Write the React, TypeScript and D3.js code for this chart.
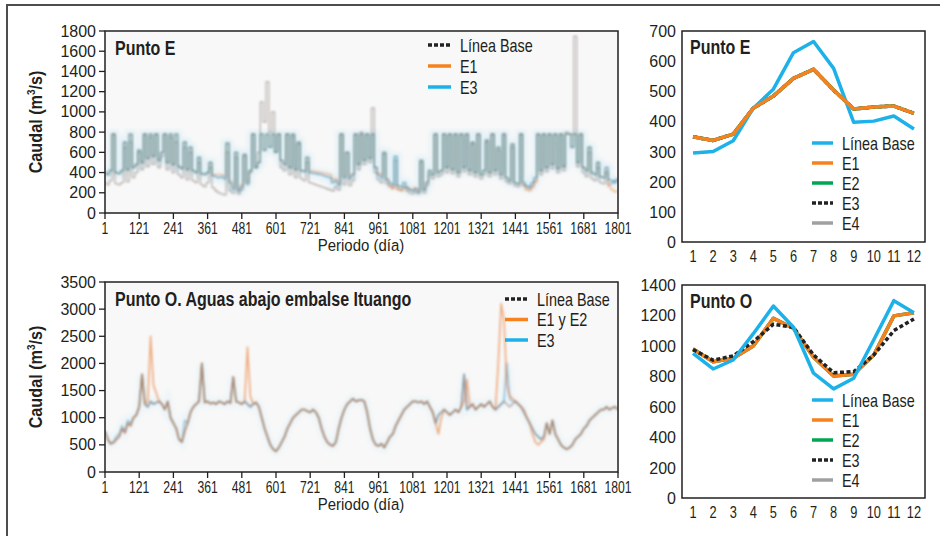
import * as d3 from "d3";

// sampling grid of the daily series (every 10 days)
const DAYS = d3.range(1, 1802, 10);
const X_TICKS = d3.range(1, 1802, 120);
const MONTHS = d3.range(1, 13);

// ---- Punto E, daily (m3/s)
const puntoEBase = [
  300, 280, 320, 780, 290, 280, 300, 650, 310, 700,
  350, 400, 600, 430, 780, 460, 750, 480, 780, 450,
  560, 780, 430, 750, 400, 700, 380, 350, 650, 330,
  600, 320, 300, 500, 280, 260, 300, 450, 250, 220,
  200, 190, 180, 600, 220, 200, 550, 190, 230, 560,
  280, 400, 780, 450, 600, 1100, 900, 1300, 800, 1000,
  600, 780, 450, 420, 780, 380, 760, 350, 680, 340,
  320, 500, 300, 290, 280, 270, 260, 250, 240, 230,
  220, 260, 230, 780, 280, 600, 270, 320, 780, 430,
  800, 480, 780, 500, 1040, 400, 330, 300, 580, 290,
  270, 250, 520, 240, 230, 260, 220, 200, 190, 210,
  190, 500, 200, 270, 380, 340, 780, 360, 380, 780,
  400, 780, 390, 780, 360, 780, 410, 780, 380, 680,
  360, 780, 340, 380, 700, 360, 780, 380, 620, 340,
  780, 310, 290, 650, 270, 260, 780, 270, 250, 240,
  270, 320, 780, 380, 780, 410, 780, 440, 780, 400,
  780, 420, 800, 780, 780, 1750, 460, 780, 400, 360,
  600, 340, 320, 450, 300, 290, 400, 280, 300, 320,
  340,
];
const puntoEE1 = [
  400, 380, 420, 780, 400, 390, 420, 700, 430, 780,
  450, 480, 620, 500, 780, 540, 780, 560, 780, 520,
  600, 780, 500, 780, 480, 780, 460, 440, 700, 430,
  650, 420, 400, 550, 390, 380, 400, 500, 380, 380,
  380, 380, 370, 690, 320, 260, 600, 240, 280, 580,
  320, 420, 780, 450, 500, 780, 620, 780, 650, 780,
  600, 780, 520, 480, 780, 450, 780, 430, 700, 420,
  420, 550, 420, 415, 410, 405, 400, 395, 390, 380,
  330, 340, 300, 780, 370, 600, 360, 390, 780, 480,
  780, 520, 780, 540, 780, 450, 400, 380, 600, 340,
  260, 240, 280, 230, 220, 250, 260, 240, 230, 250,
  230, 520, 240, 310, 420, 380, 780, 400, 420, 780,
  450, 780, 430, 780, 400, 780, 450, 780, 420, 700,
  400, 780, 380, 420, 720, 400, 780, 420, 650, 380,
  780, 350, 320, 680, 300, 290, 780, 280, 230, 220,
  250, 300, 780, 420, 780, 450, 780, 480, 780, 440,
  780, 460, 780, 780, 650, 780, 500, 780, 450, 420,
  650, 400, 380, 500, 360, 350, 420, 260, 230, 210,
  220,
];
const puntoEE3 = [
  400, 380, 420, 780, 400, 390, 420, 700, 430, 780,
  450, 480, 620, 500, 780, 540, 780, 560, 780, 520,
  600, 780, 500, 780, 480, 780, 460, 440, 700, 430,
  650, 420, 400, 550, 390, 380, 400, 500, 370, 360,
  350, 360, 340, 690, 300, 240, 600, 220, 260, 580,
  300, 420, 780, 450, 500, 780, 620, 780, 650, 780,
  600, 780, 520, 480, 780, 450, 780, 430, 700, 420,
  410, 550, 400, 395, 390, 385, 380, 370, 360, 350,
  300, 320, 280, 780, 350, 600, 340, 380, 780, 480,
  780, 520, 780, 540, 780, 450, 380, 350, 600, 330,
  300, 280, 560, 270, 260, 300, 250, 230, 220, 240,
  210, 520, 230, 300, 420, 380, 780, 400, 420, 780,
  450, 780, 430, 780, 400, 780, 450, 780, 420, 700,
  400, 780, 380, 420, 720, 400, 780, 420, 650, 380,
  780, 350, 320, 680, 300, 290, 780, 300, 270, 260,
  300, 350, 780, 420, 780, 450, 780, 480, 780, 440,
  780, 460, 780, 780, 650, 780, 500, 780, 450, 420,
  650, 400, 380, 500, 360, 350, 450, 330, 320, 300,
  330,
];

// ---- Punto O, daily (m3/s)
const puntoOBase = [
  750, 600, 520, 540, 600, 650, 800, 720, 900, 850,
  1000, 1050, 1200, 1800, 1250, 1200, 1300, 1250, 1280, 1300,
  1250, 1150, 1300, 1000, 900, 800, 600, 550, 750, 900,
  1100, 1200, 1250, 1300, 2000, 1280, 1300, 1260, 1280, 1250,
  1300, 1280, 1250, 1300, 1270, 1750, 1300, 1280, 1250, 1300,
  1250, 1200, 1250, 1280, 1200, 1000, 800, 650, 500, 420,
  380, 450, 550, 650, 800, 900, 1000, 1050, 1100, 1150,
  1150, 1120, 1100, 1150, 1100, 1000, 800, 650, 550, 500,
  480, 550, 800, 1000, 1150, 1250, 1300, 1350, 1300, 1320,
  1330, 1300, 1100, 800, 600, 500, 480, 520, 450, 550,
  650, 700, 850, 950, 1050, 1150, 1200, 1250, 1300, 1300,
  1280, 1300, 1250, 1300, 1200, 1100, 900, 1050, 1100, 1150,
  1100, 1050, 1100, 1150, 1100, 1200, 1800, 1150, 1200, 1250,
  1150, 1200, 1250, 1200, 1250, 1300, 1200, 1150, 1200, 1250,
  1300, 1250, 1200, 1250, 1300, 1250, 1200, 1100, 1000, 900,
  800, 700, 650, 600, 650, 900, 700, 950, 700, 600,
  500, 450, 420, 450, 500, 600, 650, 700, 800, 850,
  950, 1000, 1050, 1100, 1150, 1150, 1200, 1150, 1180, 1200,
  1150,
];
const puntoOE1E2 = [
  750, 600, 520, 540, 600, 650, 800, 720, 900, 850,
  1000, 1050, 1200, 1800, 1250, 1300, 2500, 1600, 1450, 1300,
  1250, 1150, 1300, 1000, 900, 800, 600, 550, 750, 900,
  1100, 1200, 1250, 1300, 2000, 1280, 1300, 1260, 1280, 1250,
  1300, 1280, 1250, 1300, 1270, 1750, 1300, 1280, 1250, 1300,
  2300, 1400, 1250, 1280, 1200, 1000, 800, 650, 500, 420,
  380, 450, 550, 650, 800, 900, 1000, 1050, 1100, 1150,
  1150, 1120, 1100, 1150, 1100, 1000, 800, 650, 550, 500,
  480, 550, 800, 1000, 1150, 1250, 1300, 1350, 1300, 1320,
  1330, 1300, 1100, 800, 600, 500, 480, 520, 450, 550,
  650, 700, 850, 950, 1050, 1150, 1200, 1250, 1300, 1300,
  1280, 1300, 1250, 1300, 1200, 1100, 900, 700, 1000, 1150,
  1100, 1050, 1100, 1150, 1100, 1200, 1300, 1700, 1200, 1250,
  1150, 1200, 1250, 1200, 1250, 1300, 1200, 1150, 2000, 3100,
  2800, 1600, 1400, 1350, 1300, 1250, 1200, 1150, 1000, 900,
  700, 550, 500, 550, 600, 900, 700, 950, 700, 600,
  500, 450, 420, 450, 500, 600, 650, 700, 800, 850,
  950, 1000, 1050, 1100, 1150, 1150, 1200, 1150, 1180, 1200,
  1150,
];
const puntoOE3 = [
  750, 600, 520, 560, 650, 700, 850, 750, 950, 900,
  1000, 1050, 1200, 1800, 1250, 1200, 1300, 1250, 1280, 1300,
  1250, 1150, 1300, 1000, 900, 800, 600, 550, 950, 900,
  1100, 1200, 1250, 1300, 2000, 1280, 1300, 1260, 1280, 1250,
  1300, 1280, 1250, 1300, 1270, 1750, 1300, 1280, 1250, 1300,
  1250, 1200, 1250, 1280, 1200, 1000, 800, 650, 500, 420,
  380, 450, 550, 650, 800, 900, 1000, 1050, 1100, 1150,
  1150, 1120, 1100, 1150, 1100, 1000, 800, 650, 550, 500,
  480, 550, 800, 1000, 1150, 1250, 1300, 1350, 1300, 1320,
  1330, 1300, 1100, 800, 600, 500, 480, 520, 450, 550,
  650, 700, 850, 950, 1050, 1150, 1200, 1250, 1300, 1300,
  1280, 1300, 1250, 1300, 1200, 1100, 900, 1050, 1100, 1150,
  1100, 1050, 1100, 1150, 1100, 1200, 1800, 1150, 1200, 1250,
  1150, 1200, 1250, 1200, 1250, 1300, 1200, 1150, 1200, 1250,
  1300, 2000, 1350, 1300, 1300, 1250, 1200, 1100, 1000, 900,
  800, 700, 650, 600, 650, 900, 700, 950, 700, 600,
  500, 450, 420, 450, 500, 600, 650, 700, 800, 850,
  950, 1000, 1050, 1100, 1150, 1150, 1200, 1150, 1180, 1200,
  1150,
];

// ---- monthly means
const mesEBase = [295, 300, 336, 444, 507, 628, 665, 576, 397, 401, 418, 375];
const mesEE1 = [349, 337, 358, 444, 484, 543, 573, 504, 441, 448, 451, 427];
const mesEE2 = [349, 337, 358, 444, 484, 543, 573, 504, 441, 448, 451, 427];
const mesEE3 = [349, 337, 358, 444, 484, 543, 573, 504, 441, 448, 451, 427];
const mesEE4 = [349, 337, 358, 444, 484, 543, 573, 504, 441, 448, 451, 427];

const mesOBase = [950, 848, 907, 1080, 1262, 1122, 820, 717, 787, 1040, 1297, 1218];
const mesOE1 = [980, 896, 918, 999, 1181, 1116, 925, 802, 813, 940, 1197, 1218];
const mesOE2 = [980, 896, 918, 999, 1181, 1116, 925, 802, 813, 940, 1197, 1218];
const mesOE3 = [975, 906, 934, 1028, 1142, 1122, 940, 824, 830, 940, 1100, 1177];
const mesOE4 = [980, 896, 918, 999, 1181, 1116, 925, 802, 813, 940, 1197, 1218];

const FONT = "'Liberation Sans', Arial, sans-serif";
const C_BLUE = "#1cb1e8";
const C_ORANGE = "#f5821f";
const C_GREEN = "#00a651";
const C_BLACK = "#222";
const C_GREY = "#a0a0a0";

function CText({x, y, sx = 0.8, anchor = "start", size = 16, weight = "normal", children}: any) {
  return (
    <text transform={`translate(${x},${y}) scale(${sx},1)`} textAnchor={anchor}
          fontSize={size} fontWeight={weight} fill="#231f20">
      {children}
    </text>
  );
}

type Serie = {values: number[]; color: string; width: number; opacity: number; halo?: string};
type LegendItem = {label: string; color: string; dashed?: boolean};

function DailyPanel({y0, y1, yMax, yStep, title, series, legend, legendX, legendY, legendGap, stepped}: {
  y0: number; y1: number; yMax: number; yStep: number; title: string; stepped?: boolean;
  series: Serie[]; legend: LegendItem[]; legendX: number; legendY: number; legendGap: number;
}) {
  const x = d3.scaleLinear().domain([1, 1801]).range([105, 618]);
  const y = d3.scaleLinear().domain([0, yMax]).range([y1, y0]);
  const line = d3.line<number>()
    .x((_, i) => x(DAYS[i]))
    .y((d) => y(d))
    .curve(stepped ? d3.curveStep : d3.curveLinear);
  const yTicks = d3.range(0, yMax + 1, yStep);
  const id = `clip${y0}`;

  return (
    <g>
      <defs>
        <clipPath id={id}><rect x={105} y={y0} width={513} height={y1 - y0} /></clipPath>
      </defs>
      <rect x={105} y={y0} width={513} height={y1 - y0} fill="#f8f8f8" />
      <g clipPath={`url(#${id})`}>
        {series.filter((s) => s.halo).map((s, i) => (
          <path key={"h" + i} d={line(s.values) ?? ""} fill="none" stroke={s.halo}
                strokeWidth={8} opacity={0.35} filter="url(#haze)" />
        ))}
        <g filter="url(#soft)">
          {series.map((s, i) => (
            <path key={i} d={line(s.values) ?? ""} fill="none" stroke={s.color}
                  strokeWidth={s.width} strokeOpacity={s.opacity} strokeLinejoin="round" />
          ))}
        </g>
      </g>
      <rect x={105} y={y0} width={513} height={y1 - y0} fill="none" stroke="#231f20" strokeWidth={1.5} />
      {yTicks.map((t) => (
        <g key={t}>
          <line x1={99} x2={105} y1={y(t)} y2={y(t)} stroke="#231f20" strokeWidth={1.3} />
          <text x={96} y={y(t) + 5.5} textAnchor="end" fontSize={16} fill="#231f20">{t}</text>
        </g>
      ))}
      {X_TICKS.map((t) => (
        <g key={t}>
          <line x1={x(t)} x2={x(t)} y1={y1} y2={y1 + 6} stroke="#231f20" strokeWidth={1.3} />
          <CText x={x(t)} y={y1 + 21} sx={0.76} anchor="middle">{t}</CText>
        </g>
      ))}
      <CText x={361} y={y1 + 38} sx={0.88} size={17} anchor="middle">Periodo (día)</CText>
      <g transform={`translate(42,${(y0 + y1) / 2}) rotate(-90)`}>
        <text transform="scale(0.9,1)" textAnchor="middle" fontSize={18} fontWeight="bold" fill="#231f20">
          Caudal (m<tspan dy={-7} fontSize={11}>3</tspan><tspan dy={7}>/s)</tspan>
        </text>
      </g>
      <CText x={115} y={y0 + 24} sx={0.8} size={20} weight="bold">{title}</CText>
      {legend.map((l, i) => (
        <g key={l.label}>
          <line x1={legendX} x2={legendX + 23} y1={legendY + i * legendGap} y2={legendY + i * legendGap}
                stroke={l.color} strokeWidth={3.5} strokeDasharray={l.dashed ? "4 2" : undefined} />
          <CText x={legendX + 32} y={legendY + i * legendGap + 6.5} sx={0.8} size={18}>{l.label}</CText>
        </g>
      ))}
    </g>
  );
}

type MSerie = {values: number[]; color: string; dashed?: boolean};

function MonthPanel({y0, y1, yMax, yStep, title, series, drawOrder, legendY}: {
  y0: number; y1: number; yMax: number; yStep: number; title: string;
  series: (MSerie & {label: string})[]; drawOrder: number[]; legendY: number;
}) {
  const x = d3.scalePoint<number>().domain(MONTHS).range([682, 925]).padding(0.55);
  const y = d3.scaleLinear().domain([0, yMax]).range([y1, y0]);
  const line = d3.line<number>().x((_, i) => x(MONTHS[i]) ?? 0).y((d) => y(d));
  const yTicks = d3.range(0, yMax + 1, yStep);
  return (
    <g>
      <rect x={682} y={y0} width={243} height={y1 - y0} fill="#fff" />
      {drawOrder.map((k) => {
        const s = series[k];
        return (
          <path key={k} d={line(s.values) ?? ""} fill="none" stroke={s.color} strokeWidth={3.5}
                strokeDasharray={s.dashed ? "4 2.5" : undefined} strokeLinejoin="round" />
        );
      })}
      <rect x={682} y={y0} width={243} height={y1 - y0} fill="none" stroke="#231f20" strokeWidth={1.5} />
      {yTicks.map((t) => (
        <text key={t} x={676} y={y(t) + 6} textAnchor="end" fontSize={16} fill="#231f20">{t}</text>
      ))}
      {MONTHS.map((m) => (
        <CText key={m} x={x(m)} y={y1 + 20} sx={0.8} anchor="middle">{m}</CText>
      ))}
      <CText x={690} y={y0 + 23} sx={0.8} size={20} weight="bold">{title}</CText>
      {series.map((s, i) => (
        <g key={s.label}>
          <line x1={812} x2={833} y1={legendY + i * 20} y2={legendY + i * 20} stroke={s.color}
                strokeWidth={3.5} strokeDasharray={s.dashed ? "4 2" : undefined} />
          <CText x={842} y={legendY + i * 20 + 6.5} sx={0.8} size={18}>{s.label}</CText>
        </g>
      ))}
    </g>
  );
}

export default function App() {
  const eSeries: Serie[] = [
    {values: puntoEBase, color: "#7a6c66", width: 1.3, opacity: 0.5},
    {values: puntoEE1, color: "#ee7f2d", width: 1.3, opacity: 0.5},
    {values: puntoEE3, color: "#2f8aa6", width: 1.4, opacity: 0.65, halo: "#b9e2f4"},
  ];
  const oSeries: Serie[] = [
    {values: puntoOE3, color: "#3d9cc2", width: 1.8, opacity: 0.5, halo: "#d5ecf7"},
    {values: puntoOE1E2, color: "#e9803a", width: 1.8, opacity: 0.6},
    {values: puntoOBase, color: "#8a7a72", width: 1.6, opacity: 0.55},
  ];
  const monthE = [
    {label: "Línea Base", values: mesEBase, color: C_BLUE},
    {label: "E1", values: mesEE1, color: C_ORANGE},
    {label: "E2", values: mesEE2, color: C_GREEN},
    {label: "E3", values: mesEE3, color: C_BLACK, dashed: true},
    {label: "E4", values: mesEE4, color: C_GREY},
  ];
  const monthO = [
    {label: "Línea Base", values: mesOBase, color: C_BLUE},
    {label: "E1", values: mesOE1, color: C_ORANGE},
    {label: "E2", values: mesOE2, color: C_GREEN},
    {label: "E3", values: mesOE3, color: C_BLACK, dashed: true},
    {label: "E4", values: mesOE4, color: C_GREY},
  ];

  return (
    <svg width={940} height={536} style={{position: "absolute", left: 0, top: 0, fontFamily: FONT}}>
      <defs>
        <filter id="soft" x="-5%" y="-5%" width="110%" height="110%">
          <feGaussianBlur stdDeviation={0.95} />
        </filter>
        <filter id="haze"><feGaussianBlur stdDeviation={2.5} /></filter>
      </defs>
      <rect width={940} height={536} fill="#fff" />
      <path d="M7,536 V5 H940" fill="none" stroke="#4d4d4d" strokeWidth={2} />
      <DailyPanel y0={31} y1={213} yMax={1800} yStep={200} title="Punto E" series={eSeries} stepped
                  legend={[
                    {label: "Línea Base", color: C_BLACK, dashed: true},
                    {label: "E1", color: C_ORANGE},
                    {label: "E3", color: C_BLUE},
                  ]}
                  legendX={428} legendY={45} legendGap={21} />
      <DailyPanel y0={282} y1={472} yMax={3500} yStep={500} title="Punto O. Aguas abajo embalse Ituango"
                  series={oSeries}
                  legend={[
                    {label: "Línea Base", color: C_BLACK, dashed: true},
                    {label: "E1 y E2", color: C_ORANGE},
                    {label: "E3", color: C_BLUE},
                  ]}
                  legendX={505} legendY={299} legendGap={20.5} />
      <MonthPanel y0={31} y1={242} yMax={700} yStep={100} title="Punto E" series={monthE}
                  drawOrder={[4, 3, 2, 0, 1]} legendY={143} />
      <MonthPanel y0={285} y1={498} yMax={1400} yStep={200} title="Punto O" series={monthO}
                  drawOrder={[4, 2, 1, 3, 0]} legendY={400} />
    </svg>
  );
}
